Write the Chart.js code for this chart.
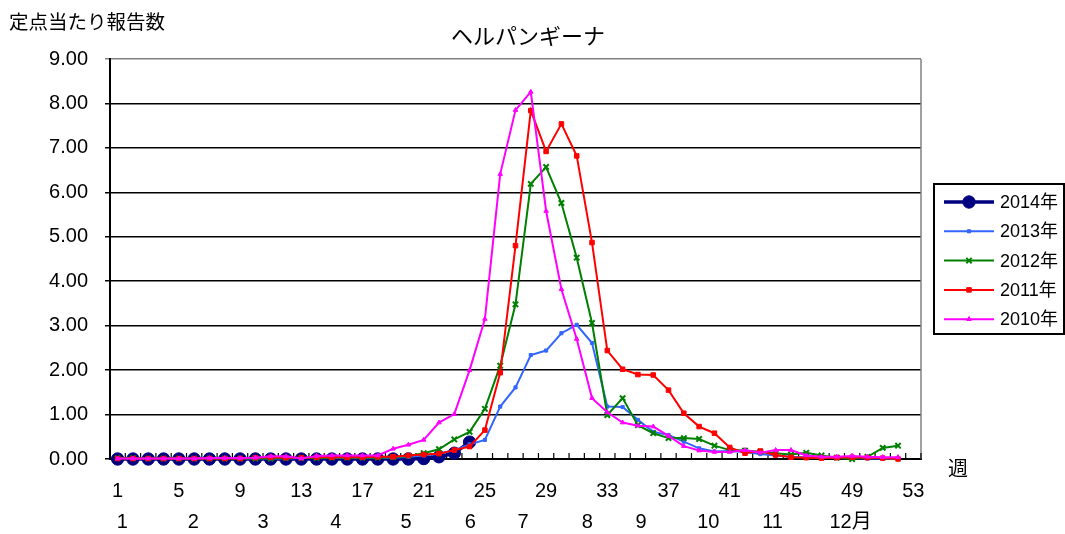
<!DOCTYPE html>
<html lang="ja">
<head>
<meta charset="utf-8">
<title>ヘルパンギーナ</title>
<script src="https://cdn.jsdelivr.net/npm/chart.js@4.4.1/dist/chart.umd.min.js"></script>
<style>
  html, body { margin: 0; padding: 0; background: #fff; }
  #wrap { width: 1065px; height: 534px; }
</style>
</head>
<body>
<div id="wrap"><canvas id="chart" width="1065" height="534"></canvas></div>
<script>
// week numbers on the x axis
const weeks = ['1','2','3','4','5','6','7','8','9','10','11','12','13','14','15','16','17','18','19','20',
  '21','22','23','24','25','26','27','28','29','30','31','32','33','34','35','36','37','38','39','40',
  '41','42','43','44','45','46','47','48','49','50','51','52','53'];

// month row under the week numbers, placed at (fractional) week positions
const monthLabels = ['1','2','3','4','5','6','7','8','9','10','11','12月'];
const monthWeeks = [1.3, 5.95, 10.5, 15.25, 19.85, 24.05, 27.5, 31.7, 35.2, 39.6, 43.8, 48.9];

const yTicks = [0, 1, 2, 3, 4, 5, 6, 7, 8, 9];

const y2014 = [0,0,0,0,0,0,0,0,0,0,0,0,0,0,0,0,0,0,0,0,0.01,0.05,0.13,0.38];
const y2013 = [0.02,0.01,0.01,0.01,0.01,0.01,0.01,0.01,0.01,0.01,0.01,0.01,0.02,0.02,0.02,0.02,0.02,0.03,
  0.03,0.05,0.08,0.12,0.20,0.33,0.43,1.18,1.61,2.34,2.44,2.83,3.02,2.61,1.18,1.17,0.88,0.61,0.54,0.39,
  0.24,0.17,0.18,0.16,0.11,0.08,0.05,0.04,0.03,0.02,0.02,0.01,0.01,0.00];
const y2012 = [0.02,0.02,0.01,0.01,0.01,0.01,0.01,0.01,0.01,0.01,0.01,0.02,0.02,0.02,0.03,0.03,0.03,0.03,
  0.04,0.07,0.13,0.22,0.44,0.61,1.13,2.10,3.48,6.19,6.57,5.76,4.53,3.06,0.99,1.37,0.76,0.58,0.47,0.47,
  0.45,0.30,0.20,0.19,0.16,0.13,0.10,0.14,0.08,0.03,0.00,0.05,0.25,0.30];
const y2011 = [0.01,0.01,0.01,0.01,0.01,0.01,0.01,0.01,0.01,0.03,0.04,0.03,0.03,0.04,0.04,0.04,0.04,0.05,
  0.05,0.08,0.10,0.12,0.20,0.28,0.65,1.94,4.80,7.84,6.92,7.54,6.82,4.87,2.44,2.02,1.90,1.89,1.55,1.03,
  0.73,0.58,0.26,0.13,0.18,0.09,0.04,0.03,0.02,0.03,0.04,0.03,0.02,0.00];
const y2010 = [0.01,0.01,0.01,0.01,0.01,0.01,0.02,0.02,0.02,0.03,0.06,0.06,0.01,0.07,0.08,0.08,0.08,0.08,
  0.23,0.32,0.43,0.82,1.01,2.00,3.15,6.41,7.85,8.26,5.58,3.82,2.70,1.37,1.05,0.82,0.75,0.73,0.52,0.29,
  0.19,0.16,0.16,0.20,0.14,0.20,0.20,0.08,0.05,0.05,0.07,0.05,0.04,0.04];

const FONT = "'Liberation Sans', 'Noto Sans CJK JP', sans-serif";
const JP_FONT = "'Noto Sans CJK JP', sans-serif";

Chart.defaults.font.family = FONT;
Chart.defaults.color = '#000';

// frame details, month row, free texts and the boxed legend
const decorPlugin = {
  id: 'decor',
  beforeDatasetsDraw(chart) {
    const { ctx, chartArea: a, scales: { x } } = chart;
    ctx.save();
    ctx.strokeStyle = '#808080';
    ctx.lineWidth = 1.5;
    ctx.beginPath();
    ctx.moveTo(a.right, a.top);
    ctx.lineTo(a.right, a.bottom);
    ctx.stroke();

    // little upward ticks between the weeks
    ctx.strokeStyle = '#000';
    ctx.lineWidth = 1.2;
    for (let i = 0; i <= weeks.length; i++) {
      const px = x.getPixelForValue(i - 0.5);
      ctx.beginPath();
      ctx.moveTo(px, a.bottom);
      ctx.lineTo(px, a.bottom - 6);
      ctx.stroke();
    }
    ctx.restore();
  },
  afterDraw(chart) {
    const { ctx, chartArea: a, scales: { x } } = chart;
    ctx.save();
    ctx.fillStyle = '#000';
    ctx.textBaseline = 'middle';

    ctx.font = '20px ' + FONT;
    ctx.textAlign = 'center';
    monthLabels.forEach((m, i) => {
      ctx.fillText(m, x.getPixelForValue(monthWeeks[i] - 1), a.bottom + 63);
    });

    ctx.font = '20px ' + JP_FONT;
    ctx.fillText('週', a.right + 37, a.bottom + 9);

    ctx.font = '22px ' + JP_FONT;
    ctx.fillText('ヘルパンギーナ', 528, a.top - 23);

    ctx.font = '19.5px ' + JP_FONT;
    ctx.textAlign = 'left';
    ctx.fillText('定点当たり報告数', 9, 22);

    // legend box
    const bx = a.right + 13, bw = 130, bh = 150;
    const by = (a.top + a.bottom) / 2 - bh / 2;
    ctx.strokeStyle = '#000';
    ctx.lineWidth = 2;
    ctx.strokeRect(bx, by, bw, bh);

    ctx.font = '18px ' + FONT;
    chart.data.datasets.forEach((ds, i) => {
      const ly = by + 18 + i * 29.3;
      ctx.strokeStyle = ds.borderColor;
      ctx.fillStyle = ds.pointBackgroundColor;
      ctx.lineWidth = ds.borderWidth;
      ctx.beginPath();
      ctx.moveTo(bx + 10, ly);
      ctx.lineTo(bx + 60, ly);
      ctx.stroke();
      ctx.lineWidth = ds.pointBorderWidth;
      Chart.helpers.drawPoint(ctx, {
        pointStyle: ds.pointStyle,
        radius: ds.pointRadius,
        rotation: 0,
        borderWidth: ds.pointBorderWidth
      }, bx + 35, ly);
      ctx.fillStyle = '#000';
      ctx.fillText(ds.label, bx + 66, ly + 1);
    });
    ctx.restore();
  }
};

function series(label, data, color, width, style, radius, order) {
  return {
    label: label,
    data: data,
    borderColor: color,
    backgroundColor: color,
    pointBackgroundColor: color,
    pointBorderColor: color,
    borderWidth: width,
    pointStyle: style,
    pointRadius: radius,
    pointBorderWidth: style === 'crossRot' ? 2 : 1,
    pointHoverRadius: radius,
    tension: 0,
    clip: false,
    order: order
  };
}

new Chart(document.getElementById('chart'), {
  type: 'line',
  data: {
    labels: weeks,
    datasets: [
      series('2014年', y2014, '#000080', 3.5, 'circle', 6.2, 4),
      series('2013年', y2013, '#3366ff', 2, 'rect', 2.2, 3),
      series('2012年', y2012, '#008000', 2, 'crossRot', 3.8, 2),
      series('2011年', y2011, '#ff0000', 2, 'rect', 3.2, 1),
      series('2010年', y2010, '#ff00ff', 2, 'triangle', 2.6, 0)
    ]
  },
  options: {
    responsive: false,
    animation: false,
    layout: { padding: { top: 59, right: 144, bottom: 0, left: 0 } },
    plugins: {
      legend: { display: false },
      title: { display: false },
      tooltip: { enabled: false }
    },
    scales: {
      x: {
        offset: true,
        grid: { display: false, drawTicks: false },
        border: { display: true, color: '#000', width: 2 },
        ticks: {
          autoSkip: false,
          maxRotation: 0,
          padding: 20,
          font: { size: 20 },
          callback(value, index) {
            return index % 4 === 0 ? this.getLabelForValue(value) : '';
          }
        },
        afterFit(scale) { scale.height = 75; }
      },
      y: {
        min: 0,
        max: 9,
        afterBuildTicks(scale) { scale.ticks = yTicks.map(v => ({ value: v })); },
        grid: {
          color: ctx => (ctx.tick && ctx.tick.value === 9 ? '#808080' : '#000'),
          lineWidth: 1.5,
          drawTicks: true,
          tickLength: 5
        },
        border: { display: true, color: '#000', width: 2 },
        ticks: {
          padding: 17,
          font: { size: 20 },
          callback: v => Number(v).toFixed(2)
        },
        afterFit(scale) { scale.width = 110; }
      }
    }
  },
  plugins: [decorPlugin]
});
</script>
</body>
</html>
